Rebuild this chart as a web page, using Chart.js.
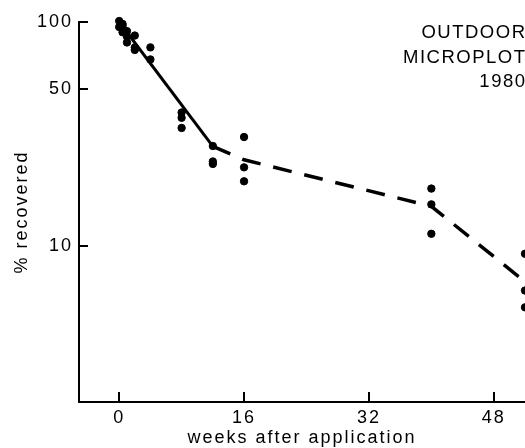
<!DOCTYPE html>
<html>
<head>
<meta charset="utf-8">
<script src="https://cdn.jsdelivr.net/npm/chart.js@4.4.1/dist/chart.umd.min.js"></script>
<style>
  html, body { margin: 0; padding: 0; background: #ffffff; overflow: hidden; }
  #wrap { width: 525px; height: 448px; position: relative; overflow: hidden; }
  canvas { display: block; }
</style>
</head>
<body>
<div id="wrap"><canvas id="c" width="525" height="448"></canvas></div>
<script>
// ---- data ----
const sampleWeeks = [0, 0, 0, 0.43, 0.43, 0.43, 1, 1, 1, 2, 2, 2, 4, 4,
                     8, 8, 8, 12, 12, 12, 16, 16, 16, 40, 40, 40, 52, 52, 52];
const percentRecovered = [106, 101, 95, 98, 96, 90, 91, 86, 81, 87, 77, 75, 77, 68,
                          39.4, 37.3, 33.6, 27.9, 23.8, 23.2, 30.6, 22.4, 19.4,
                          18.0, 15.3, 11.3, 9.2, 6.3, 5.3];
const solidFitWeeks = [0, 12];
const solidFitValues = [100, 27.8];
const dashedFitWeeks = [12, 16, 40, 52];
const dashedFitValues = [27.8, 24.2, 15.0, 6.9];
const xTickValues = [0, 16, 32, 48];
const yTickValues = [10, 50, 100];
const annotationLines = ['OUTDOOR', 'MICROPLOT', '1980'];
const xTitle = 'weeks after application';
const yTitle = '% recovered';

const FONT = "'Liberation Sans', Arial, Helvetica, sans-serif";
Chart.defaults.font.family = FONT;
Chart.defaults.font.size = 18;
Chart.defaults.color = '#000';

const toXY = (xs, ys) => xs.map((x, i) => ({ x: x, y: ys[i] }));

const spacing = {
  id: 'spacing',
  beforeLayout(chart) { chart.ctx.letterSpacing = '2px'; },
  beforeDraw(chart) { chart.ctx.letterSpacing = '2px'; }
};

const inwardTicks = {
  id: 'inwardTicks',
  afterDraw(chart) {
    const { ctx } = chart;
    const x = chart.scales.x, y = chart.scales.y;
    ctx.save();
    ctx.strokeStyle = '#000';
    ctx.lineWidth = 2;
    ctx.beginPath();
    xTickValues.forEach(v => {
      const px = Math.round(x.getPixelForValue(v));
      ctx.moveTo(px, x.top);
      ctx.lineTo(px, x.top - 10);
    });
    yTickValues.forEach(v => {
      const py = Math.round(y.getPixelForValue(v));
      ctx.moveTo(y.right, py);
      ctx.lineTo(y.right + 9, py);
    });
    ctx.stroke();
    ctx.restore();
  }
};

const annotation = {
  id: 'annotation',
  afterDraw(chart) {
    const { ctx } = chart;
    ctx.save();
    ctx.letterSpacing = '1.5px';
    ctx.fillStyle = '#000';
    ctx.font = '18.5px ' + FONT;
    ctx.textAlign = 'right';
    ctx.textBaseline = 'middle';
    annotationLines.forEach((t, i) => ctx.fillText(t, 526.5, 33 + i * 24.5));
    ctx.restore();
  }
};

new Chart(document.getElementById('c'), {
  type: 'scatter',
  data: {
    datasets: [
      {
        data: toXY(sampleWeeks, percentRecovered),
        backgroundColor: '#000',
        borderColor: '#000',
        pointRadius: 3.7,
        pointHoverRadius: 3.7,
        clip: false,
        order: 1
      },
      {
        data: toXY(solidFitWeeks, solidFitValues),
        showLine: true,
        borderColor: '#000',
        borderWidth: 3,
        pointRadius: 0,
        clip: false,
        order: 2
      },
      {
        data: toXY(dashedFitWeeks, dashedFitValues),
        showLine: true,
        borderColor: '#000',
        borderWidth: 3.5,
        borderDash: [19, 13],
        pointRadius: 0,
        clip: false,
        order: 3
      }
    ]
  },
  options: {
    responsive: false,
    animation: false,
    devicePixelRatio: 1,
    layout: { autoPadding: false, padding: { top: 22, left: 0, right: 0, bottom: 0 } },
    plugins: { legend: { display: false }, tooltip: { enabled: false } },
    scales: {
      x: {
        type: 'linear',
        min: -5.15,
        max: 52,
        afterBuildTicks(scale) { scale.ticks = xTickValues.map(v => ({ value: v })); },
        afterFit(scale) { scale.height = 46; },
        grid: { display: false, drawTicks: false },
        border: { display: true, color: '#000', width: 2 },
        ticks: { padding: 5, color: '#000', font: { size: 18 }, maxRotation: 0, callback: v => String(v) },
        title: { display: true, text: xTitle, color: '#000', font: { size: 18 }, padding: { top: 0, bottom: -1 } }
      },
      y: {
        type: 'logarithmic',
        min: 2,
        max: 100,
        afterBuildTicks(scale) { scale.ticks = yTickValues.map(v => ({ value: v })); },
        afterFit(scale) { scale.width = 79; },
        grid: { display: false, drawTicks: false },
        border: { display: true, color: '#000', width: 2 },
        ticks: { padding: 6, color: '#000', font: { size: 18 }, callback: v => String(v) },
        title: { display: true, text: yTitle, color: '#000', font: { size: 18 }, padding: { top: 11, bottom: 0 } }
      }
    }
  },
  plugins: [spacing, inwardTicks, annotation]
});
</script>
</body>
</html>
